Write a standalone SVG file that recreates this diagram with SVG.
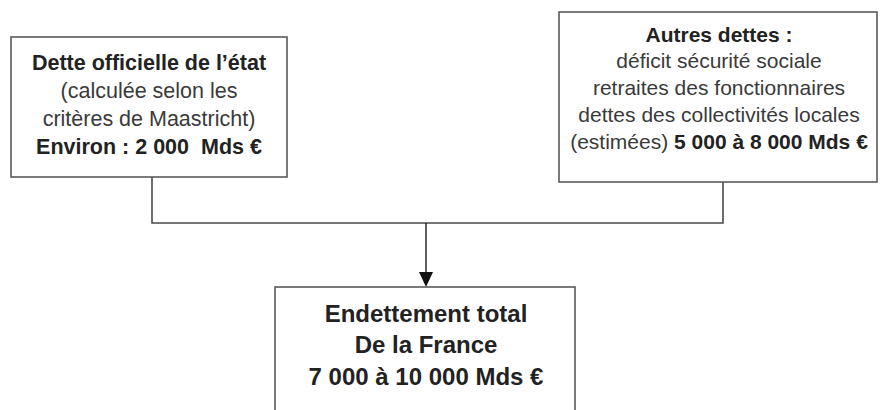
<svg xmlns="http://www.w3.org/2000/svg" width="880" height="410" viewBox="0 0 880 410">
  <style>
    .box { fill: #ffffff; stroke: #5a5a5a; stroke-width: 1.6; }
    text { font-family: "Liberation Sans", Arial, sans-serif; text-anchor: middle; fill: #3a3a3a; }
    .b { font-weight: bold; fill: #222222; }
    .conn { fill: none; stroke: #4a4a4a; stroke-width: 1.6; }
    .arrow { fill: none; stroke: #1a1a1a; stroke-width: 1.4; }
  </style>
  <rect width="880" height="410" fill="#ffffff"/>

  <g id="connectors">
    <path class="conn" d="M152,177 V223 H723 V182"/>
    <line class="arrow" x1="426" y1="223" x2="426" y2="273"/>
    <path d="M419,272 L433,272 L426,287 Z" fill="#111111"/>
  </g>

  <g id="node-etat">
    <rect class="box" x="11" y="37" width="276" height="140"/>
    <text x="149" y="70" font-size="21.5" class="b">Dette officielle de l’état</text>
    <text x="149" y="98" font-size="21.5">(calculée selon les</text>
    <text x="149" y="126" font-size="21.5">critères de Maastricht)</text>
    <text x="149" y="154" font-size="21.5" class="b" xml:space="preserve">Environ : 2 000  Mds €</text>
  </g>

  <g id="node-autres">
    <rect class="box" x="559" y="12" width="318" height="170"/>
    <text x="719" y="42" font-size="21" class="b">Autres dettes :</text>
    <text x="719" y="68" font-size="21">déficit sécurité sociale</text>
    <text x="719" y="95" font-size="21">retraites des fonctionnaires</text>
    <text x="719" y="122" font-size="21">dettes des collectivités locales</text>
    <text x="719" y="149" font-size="21">(estimées) <tspan class="b">5 000 à 8 000 Mds €</tspan></text>
  </g>

  <g id="node-total">
    <rect class="box" x="275" y="287" width="300" height="140"/>
    <text x="426" y="322" font-size="24" class="b">Endettement total</text>
    <text x="426" y="353" font-size="24" class="b">De la France</text>
    <text x="426" y="385" font-size="24" class="b">7 000 à 10 000 Mds €</text>
  </g>
</svg>
